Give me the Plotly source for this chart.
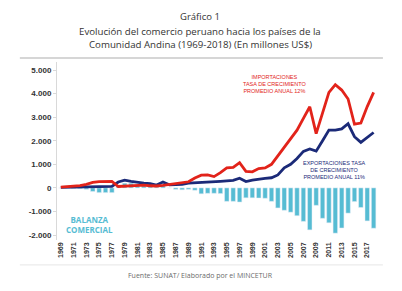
import plotly.graph_objects as go

# Datos (millones US$), 1969-2018
years = list(range(1969, 2019))

exportaciones = [20, 25, 30, 30, 35, 40, 40, 50, 60, 250,
                 330, 280, 230, 200, 180, 120, 250, 130, 140, 150,
                 200, 210, 220, 230, 240, 280, 300, 320, 410, 270,
                 330, 380, 400, 430, 550, 850, 1000, 1250, 1550, 1650,
                 1560, 2000, 2450, 2450, 2500, 2720, 2170, 1930, 2150, 2350]

importaciones = [30, 50, 70, 100, 150, 230, 270, 290, 280, 60,
                 80, 100, 110, 120, 90, 80, 110, 140, 170, 210,
                 260, 420, 540, 550, 480, 650, 850, 870, 1070, 700,
                 680, 820, 850, 1000, 1350, 1750, 2050, 2450, 2950, 3440,
                 2300, 3200, 4050, 4380, 4150, 3770, 2700, 2750, 3450, 4050]

balanza = [0, 10, -20, -30, -60, -150, -200, -200, -200, 50,
           200, 200, 120, 80, 60, 40, 100, 0, -60, -80,
           -60, -100, -250, -230, -230, -240, -570, -570, -600, -420,
           -420, -430, -440, -570, -850, -950, -1030, -1180, -1420, -1780,
           -740, -1290, -1480, -1920, -1700, -1070, -580, -830, -1400, -1710]

ytick_vals = [-2000, -1000, 0, 1000, 2000, 3000, 4000, 5000]
ytick_text = ["-2.000", "-1.000", "0", "1.000", "2.000", "3.000", "4.000", "5.000"]
xtick_vals = list(range(1969, 2018, 2))

RED = "#e2231a"
NAVY = "#1b2a78"
CYAN = "#56bcd3"

fig = go.Figure()
fig.add_trace(go.Bar(x=years, y=balanza, marker_color=CYAN, width=0.7,
                     name="Balanza comercial"))
fig.add_trace(go.Scatter(x=years, y=exportaciones, mode="lines",
                         line=dict(color=NAVY, width=2.8), name="Exportaciones"))
fig.add_trace(go.Scatter(x=years, y=importaciones, mode="lines",
                         line=dict(color=RED, width=2.8), name="Importaciones"))

fig.update_layout(
    width=402, height=291,
    showlegend=False,
    plot_bgcolor="white", paper_bgcolor="white",
    margin={"l": 49, "r": 30, "t": 54, "b": 59, "pad": 0},
    xaxis=dict(
        range=[1968.4, 2019],
        tickmode="array", tickvals=xtick_vals,
        ticktext=[f"<b>{v}</b>" for v in xtick_vals],
        tickangle=-90,
        tickfont=dict(family="Liberation Sans", size=7, color="#333333"),
        showgrid=False, zeroline=False, showline=False, ticks="",
    ),
    yaxis=dict(
        range=[-2210, 5340],
        tickmode="array", tickvals=ytick_vals,
        ticktext=[f"<b>{t}</b>" for t in ytick_text],
        tickfont=dict(family="Liberation Sans", size=8, color="#333333"),
        showgrid=False, zeroline=False,
        showline=True, linecolor="#d9d9d9", linewidth=1,
        ticks="outside", ticklen=3, tickcolor="#d9d9d9",
    ),
)

title_font = dict(family="Open Sans", color="#333333")
fig.add_annotation(text="Gráfico 1", xref="paper", yref="paper",
                   x=0.443, y=1.253, xanchor="center", yanchor="middle",
                   showarrow=False, font=dict(size=9.5, **title_font))
fig.add_annotation(text="Evolución del comercio peruano hacia los países de la",
                   xref="paper", yref="paper", x=0.443, y=1.174,
                   xanchor="center", yanchor="middle", showarrow=False,
                   font=dict(size=9.7, **title_font))
fig.add_annotation(text="Comunidad Andina (1969-2018) (En millones US$)",
                   xref="paper", yref="paper", x=0.443, y=1.096,
                   xanchor="center", yanchor="middle", showarrow=False,
                   font=dict(size=9.7, **title_font))

# Líneas grises separadoras
fig.add_shape(type="line", xref="paper", yref="paper", x0=-0.115, x1=1.009,
              y0=1.022, y1=1.022, line=dict(color="#c8c8c8", width=1.5))
fig.add_shape(type="line", xref="paper", yref="paper", x0=-0.115, x1=1.009,
              y0=-0.14, y1=-0.14, line=dict(color="#e6e6e6", width=1))

fig.add_annotation(text="Fuente: SUNAT/ Elaborado por el MINCETUR",
                   xref="paper", yref="paper", x=0.443, y=-0.202,
                   xanchor="center", yanchor="middle", showarrow=False,
                   font=dict(family="Open Sans", size=7, color="#6b6b6b"))

# Etiquetas internas
fig.add_annotation(text="IMPORTACIONES<br>TASA DE CRECIMIENTO<br>PROMEDIO ANUAL 12%",
                   x=2002.5, y=4400, xanchor="center", yanchor="middle",
                   showarrow=False, align="center",
                   font=dict(family="Liberation Sans", size=5.5, color=RED))
fig.add_annotation(text="EXPORTACIONES TASA<br>DE CRECIMIENTO<br>PROMEDIO ANUAL 11%",
                   x=2011.8, y=750, xanchor="center", yanchor="middle",
                   showarrow=False, align="center",
                   font=dict(family="Liberation Sans", size=5.5, color=NAVY))
fig.add_annotation(text="<b>BALANZA<br>COMERCIAL</b>",
                   x=1973.5, y=-1550, xanchor="center", yanchor="middle",
                   showarrow=False, align="center",
                   font=dict(family="Open Sans", size=8, color=CYAN))

fig.write_html("out.html")
